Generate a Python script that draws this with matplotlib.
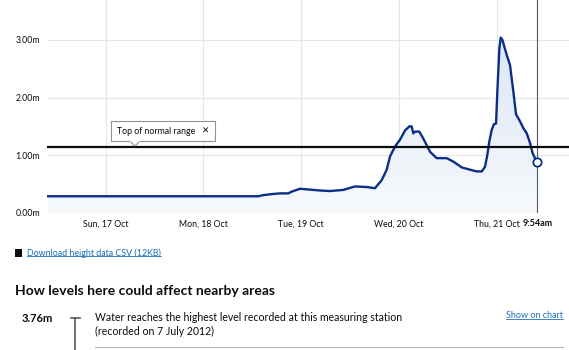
import matplotlib
matplotlib.use("Agg")
import matplotlib.pyplot as plt
import matplotlib.dates as mdates
import numpy as np
import pandas as pd
from matplotlib.patches import Rectangle, Polygon
from matplotlib.lines import Line2D
from matplotlib.colors import LinearSegmentedColormap

# ---------------- data ----------------
times = [
    "2021-10-16 09:54", "2021-10-17 00:00", "2021-10-18 00:00", "2021-10-18 13:26",
    "2021-10-18 14:40", "2021-10-18 17:08", "2021-10-18 18:46", "2021-10-18 20:48",
    "2021-10-18 21:38", "2021-10-18 23:41", "2021-10-19 01:19", "2021-10-19 04:35",
    "2021-10-19 07:02", "2021-10-19 10:18", "2021-10-19 13:10", "2021-10-19 16:03",
    "2021-10-19 18:05", "2021-10-19 19:44", "2021-10-19 20:57", "2021-10-19 21:46",
    "2021-10-19 22:59", "2021-10-20 00:13", "2021-10-20 01:27", "2021-10-20 02:30",
    "2021-10-20 03:05", "2021-10-20 03:29", "2021-10-20 03:54", "2021-10-20 04:57",
    "2021-10-20 05:56", "2021-10-20 07:35", "2021-10-20 09:13", "2021-10-20 11:41",
    "2021-10-20 13:18", "2021-10-20 15:22", "2021-10-20 17:24", "2021-10-20 19:02",
    "2021-10-20 20:16", "2021-10-20 21:04", "2021-10-20 21:38", "2021-10-20 22:08",
    "2021-10-20 22:43", "2021-10-20 23:17", "2021-10-20 23:47", "2021-10-21 00:06",
    "2021-10-21 00:36", "2021-10-21 00:56", "2021-10-21 01:20", "2021-10-21 02:24",
    "2021-10-21 03:13", "2021-10-21 04:02", "2021-10-21 04:41", "2021-10-21 05:30",
    "2021-10-21 06:29", "2021-10-21 07:19", "2021-10-21 08:08", "2021-10-21 08:47",
    "2021-10-21 09:46", "2021-10-21 09:54",
]
levels = [
    0.29, 0.29, 0.29, 0.29,
    0.31, 0.33, 0.34, 0.34,
    0.37, 0.42, 0.41, 0.39,
    0.38, 0.40, 0.46, 0.45,
    0.43, 0.57, 0.75, 0.98,
    1.15, 1.27, 1.43, 1.50,
    1.50, 1.38, 1.41, 1.41,
    1.29, 1.06, 0.95, 0.95,
    0.89, 0.79, 0.75, 0.72,
    0.72, 0.80, 1.00, 1.24,
    1.44, 1.54, 1.55, 2.10,
    2.86, 3.04, 3.00, 2.74,
    2.56, 2.10, 1.71, 1.61,
    1.47, 1.38, 1.21, 1.03,
    0.89, 0.88,
]
day_ticks = ["2021-10-17", "2021-10-18", "2021-10-19", "2021-10-20", "2021-10-21"]
day_labels = ["Sun, 17 Oct", "Mon, 18 Oct", "Tue, 19 Oct", "Wed, 20 Oct", "Thu, 21 Oct"]
y_ticks = [0, 1, 2, 3]
y_labels = ["0.00m", "1.00m", "2.00m", "3.00m"]
normal_top = 1.14
now_time = "2021-10-21 09:54"
now_label = "9:54am"
x_start = "2021-10-16 09:36"
x_end = "2021-10-21 17:41"
y_max = 3.69

# ---------------- figure ----------------
W, H = 569, 350
plt.rcParams['font.family'] = ['Lato', 'DejaVu Sans']
fig = plt.figure(figsize=(W / 100, H / 100), dpi=100)

def fx(x):
    return x / W

def fy(y):
    return 1 - y / H

ax = fig.add_axes([fx(47), fy(213), fx(569) - fx(47), fy(0) - fy(213)])
t = mdates.date2num(pd.to_datetime(times))
lv = np.array(levels)
x0 = mdates.date2num(pd.Timestamp(x_start))
x1 = mdates.date2num(pd.Timestamp(x_end))
ax.set_xlim(x0, x1)
ax.set_ylim(0, y_max)

line_col = "#0b2f86"

# gradient fill under the curve
poly_xy = np.vstack([np.column_stack([t, lv]), [[t[-1], 0], [t[0], 0]]])
poly = Polygon(poly_xy, closed=True, facecolor="none", edgecolor="none")
ax.add_patch(poly)
grad = np.linspace(1, 0, 256).reshape(-1, 1)
cmap = LinearSegmentedColormap.from_list("g", ["#f7f9fc", "#dce6f4"])
im = ax.imshow(grad, extent=[x0, x1, 0, 3.1], origin="upper", aspect="auto",
               cmap=cmap, zorder=1)
im.set_clip_path(poly)

# grid
for d in day_ticks:
    ax.axvline(mdates.date2num(pd.Timestamp(d)), color="#e6e6e6", lw=0.8, zorder=0)
for yv in y_ticks:
    ax.axhline(yv, color="#e6e6e6", lw=0.8, zorder=0)

ax.plot(t, lv, color=line_col, lw=1.7, zorder=3, solid_joinstyle="round")

# normal range line
ax.axhline(normal_top, color="#0b0c0c", lw=1.6, zorder=4)

# now line and marker
tn = mdates.date2num(pd.Timestamp(now_time))
ax.axvline(tn, color="#505a5f", lw=0.8, zorder=2)
ax.plot([t[-1]], [lv[-1]], marker="o", ms=6, mfc="white", mec=line_col, mew=1.3, zorder=5)

for s in ax.spines.values():
    s.set_visible(False)
ax.set_xticks(mdates.date2num(pd.to_datetime(day_ticks)))
ax.set_xticklabels(day_labels)
ax.set_yticks(y_ticks)
ax.set_yticklabels(y_labels)
ax.tick_params(axis="both", length=0, labelsize=6.3, colors="#0b0c0c")
ax.tick_params(axis="x", pad=5)
ax.tick_params(axis="y", pad=5)
ax.text(tn, -0.18, now_label, ha="center", va="center", fontsize=6.5,
        fontweight="bold", color="#0b0c0c", transform=ax.transData)

# annotation box
bx0, by0, bx1, by1 = 111, 121, 215, 141
box = Rectangle((fx(bx0), fy(by1)), fx(bx1) - fx(bx0), fy(by0) - fy(by1),
                transform=fig.transFigure, facecolor="white", edgecolor="#8e9396",
                lw=0.8, zorder=10)
fig.add_artist(box)
tri = Polygon([(fx(130), fy(by1)), (fx(135), fy(146)), (fx(140), fy(by1))],
              closed=False, transform=fig.transFigure, facecolor="white",
              edgecolor="#8e9396", lw=0.8, zorder=11)
fig.add_artist(tri)
fig.add_artist(Line2D([fx(130.6), fx(139.4)], [fy(by1), fy(by1)], transform=fig.transFigure,
                      color="white", lw=1.2, zorder=12))
fig.text(fx(117), fy(131), "Top of normal range", ha="left", va="center",
         fontsize=6.3, color="#0b0c0c", zorder=13)
fig.text(fx(206), fy(131), "\u2715", ha="center", va="center", fontsize=6.3,
         fontweight="bold", color="#0b0c0c", family=["DejaVu Sans"], zorder=13)

# ---------------- text below ----------------
link_col = "#1d70b8"
fig.add_artist(Rectangle((fx(15), fy(257)), fx(22) - fx(15), fy(249) - fy(257),
                         transform=fig.transFigure, facecolor="#0b0c0c", edgecolor="none"))
link1 = fig.text(fx(27), fy(253), "Download height data CSV (12KB)", ha="left", va="center",
                 fontsize=6.4, color=link_col)
fig.text(fx(15), fy(291), "How levels here could affect nearby areas", ha="left",
         va="center", fontsize=10, fontweight="bold", color="#0b0c0c")
fig.text(fx(22), fy(318), "3.76m", ha="left", va="center", fontsize=8,
         fontweight="bold", color="#0b0c0c")
fig.add_artist(Line2D([fx(71), fx(80)], [fy(318), fy(318)], transform=fig.transFigure,
                      color="#505a5f", lw=1.2))
fig.add_artist(Line2D([fx(75.5), fx(75.5)], [fy(318), fy(351)], transform=fig.transFigure,
                      color="#505a5f", lw=1.2))
fig.text(fx(95), fy(317.5), "Water reaches the highest level recorded at this measuring station",
         ha="left", va="center", fontsize=7.6, color="#0b0c0c")
fig.text(fx(95), fy(331.5), "(recorded on 7 July 2012)", ha="left", va="center",
         fontsize=7.6, color="#0b0c0c")
link2 = fig.text(fx(563), fy(315.5), "Show on chart", ha="right", va="center",
                 fontsize=6.5, color=link_col)
fig.add_artist(Line2D([fx(95), fx(563)], [fy(347), fy(347)], transform=fig.transFigure,
                      color="#b1b4b6", lw=0.8))

# underline links
fig.canvas.draw()
r = fig.canvas.get_renderer()
for lk in (link1, link2):
    bb = lk.get_window_extent(r)
    yb = bb.y0 + 1.5
    fig.add_artist(Line2D([bb.x0 / W, bb.x1 / W], [yb / H, yb / H],
                          transform=fig.transFigure, color=link_col, lw=0.6))

fig.savefig("out.png", dpi=100)
